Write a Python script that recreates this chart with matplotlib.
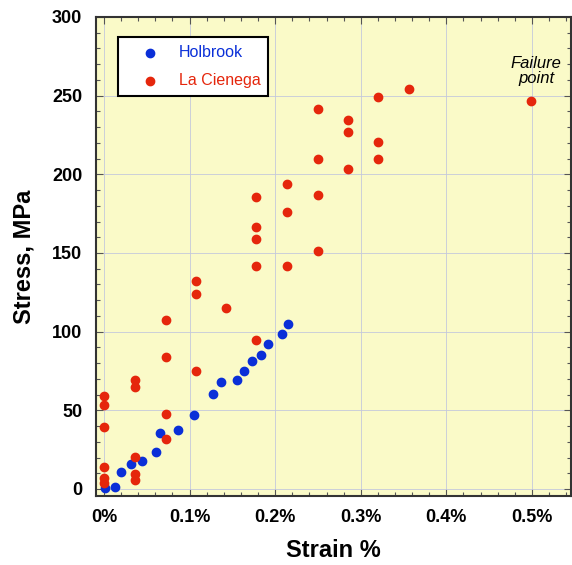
import matplotlib
matplotlib.use("Agg")
import matplotlib.pyplot as plt
from matplotlib.ticker import MultipleLocator, FuncFormatter

plt.rcParams['font.family'] = ['Liberation Sans', 'DejaVu Sans']

# Holbrook data (strain %, stress MPa)
holbrook_strain = [0.001, 0.013, 0.020, 0.032, 0.044, 0.061, 0.065, 0.086, 0.105,
                   0.127, 0.137, 0.155, 0.164, 0.173, 0.183, 0.192, 0.208, 0.215]
holbrook_stress = [0.8, 1.5, 11, 16, 17.8, 23.3, 35.8, 37.5, 46.8,
                   60.2, 68, 69.2, 75, 81.5, 85.3, 92.1, 98.5, 105]

# La Cienega data
cienega_strain = [0.0, 0.0, 0.0, 0.0, 0.0, 0.0,
                  0.036, 0.036, 0.036, 0.036, 0.036,
                  0.072, 0.072, 0.072, 0.072,
                  0.107, 0.107, 0.107,
                  0.142,
                  0.178, 0.178, 0.178, 0.178, 0.178,
                  0.214, 0.214, 0.214,
                  0.250, 0.250, 0.250, 0.250,
                  0.285, 0.285, 0.285,
                  0.320, 0.320, 0.320,
                  0.356, 0.499]
cienega_stress = [59.3, 53.4, 39.4, 13.8, 6.8, 3.8,
                  69.5, 65, 20.1, 9.3, 5.5,
                  107.2, 83.9, 47.4, 32,
                  132.1, 123.7, 75.2,
                  115.2,
                  185.3, 166.3, 158.6, 141.9, 94.7,
                  194, 176.2, 141.9,
                  241.4, 209.5, 186.6, 151.4,
                  234.6, 227, 203.3,
                  249.2, 220.4, 209.5,
                  253.9, 246.7]

blue = '#0a2fd8'
red = '#e5260c'

fig = plt.figure(figsize=(5.72, 5.65), dpi=100)
ax = fig.add_axes([0.168, 0.122, 0.83, 0.848])
ax.set_facecolor('#fafac8')

ax.scatter(holbrook_strain, holbrook_stress, s=36, color=blue, label='Holbrook', zorder=3)
ax.scatter(cienega_strain, cienega_stress, s=36, color=red, label='La Cienega', zorder=3)

ax.set_xlim(-0.0093, 0.5456)
ax.set_ylim(-4.5, 300)
ax.xaxis.set_major_locator(MultipleLocator(0.1))
ax.xaxis.set_minor_locator(MultipleLocator(0.02))
ax.yaxis.set_major_locator(MultipleLocator(50))
ax.yaxis.set_minor_locator(MultipleLocator(10))
ax.xaxis.set_major_formatter(FuncFormatter(lambda v, p: '0%' if abs(v) < 1e-9 else f'{v:.1f}%'))

ax.grid(True, which='major', color='#c4c8dc', linewidth=0.6)
ax.set_axisbelow(True)
ax.tick_params(which='both', direction='in', top=True, right=True, color='#555555')
ax.tick_params(which='major', length=5, width=0.8, labelsize=13)
ax.tick_params(which='minor', length=3, width=0.8)
ax.tick_params(axis='x', pad=9)
ax.tick_params(axis='y', pad=10)
for lab in ax.get_xticklabels() + ax.get_yticklabels():
    lab.set_fontweight('bold')
for sp in ax.spines.values():
    sp.set_linewidth(1.5)
    sp.set_color('#333333')

ax.set_xlabel('Strain %', fontsize=17, fontweight='bold', labelpad=10)
ax.set_ylabel('Stress, MPa', fontsize=17, fontweight='bold', labelpad=12)

ax.text(0.505, 275, 'Failure\npoint', style='italic', fontsize=12, ha='center', va='top',
        linespacing=0.95)

leg = ax.legend(loc='upper left', bbox_to_anchor=(0.046, 0.958), fontsize=11.5,
                frameon=True, fancybox=False, edgecolor='black', framealpha=1,
                handletextpad=0.3, handlelength=3.0, borderpad=0.5, labelspacing=0.82,
                borderaxespad=0)
leg.get_frame().set_linewidth(1.5)
leg.get_texts()[0].set_color(blue)
leg.get_texts()[1].set_color(red)

fig.savefig('out.png', dpi=100)
